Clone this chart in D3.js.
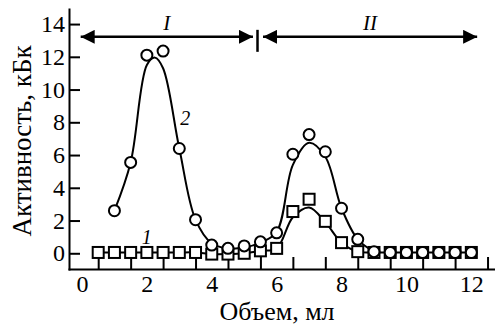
<!DOCTYPE html>
<html lang="en">
<head>
<meta charset="UTF-8">
<title>Активность</title>
<script src="https://cdn.jsdelivr.net/npm/d3@7"></script>
<style>
    body { margin: 0; padding: 0; background: #fff; }
    svg { display: block; }
    text { font-family: "Liberation Serif", "Times New Roman", serif; fill: #000; }
    .axis path, .axis line { stroke: #000; stroke-width: 2px; }
    .mark { font-style: italic; font-size: 20px; }
</style>
</head>
<body>
<div id="chart"></div>
<script>
// --- data ---
// curve 1 (squares)
const vol1 = [0.5, 1, 1.5, 2, 2.5, 3, 3.5, 4, 4.5, 5, 5.5, 6, 6.5, 7, 7.5, 8, 8.5, 9, 9.5, 10, 10.5, 11, 11.5, 12];
const act1 = [0.05, 0.05, 0.05, 0.05, 0.05, 0.05, 0.05, -0.05, -0.05, 0, 0.15, 0.3, 2.55, 3.3, 1.95, 0.65, 0.1, 0.05, 0.05, 0.05, 0.05, 0.05, 0.05, 0.05];
// smooth line drawn for curve 1
const fit1 = [0.05, 0.05, 0.05, 0.05, 0.05, 0.05, 0.05, -0.05, -0.05, 0, 0.15, 0.3, 2.2, 2.8, 1.9, 0.65, 0.1, 0.05, 0.05, 0.05, 0.05, 0.05, 0.05, 0.05];

// curve 2 (circles)
const vol2 = [1, 1.5, 2, 2.5, 3, 3.5, 4, 4.5, 5, 5.5, 6, 6.5, 7, 7.5, 8, 8.5, 9, 9.5, 10, 10.5, 11, 11.5, 12];
const act2 = [2.6, 5.55, 12.1, 12.35, 6.4, 2.05, 0.5, 0.3, 0.45, 0.7, 1.25, 6.05, 7.25, 6.2, 2.75, 0.85, 0.1, 0.05, 0.05, 0.05, 0.05, 0.05, 0.05];
// smooth line drawn for curve 2
const fitVol2 = [1, 1.5, 2, 2.25, 2.5, 3, 3.5, 4, 4.5, 5, 5.5, 6, 6.5, 7, 7.5, 8, 8.5, 9];
const fitAct2 = [2.6, 5.55, 11.5, 11.95, 11.3, 6.4, 2.05, 0.6, 0.3, 0.35, 0.65, 1.3, 5.4, 6.75, 5.9, 2.75, 0.85, 0.1];

const xLabels = [0, 2, 4, 6, 8, 10, 12];
const xTicks = [0.5, 1.5, 2.5, 3.5, 4.5, 5.5, 6.5, 7.5, 8.5, 9.5, 10.5, 11.5, 12.5];
const yTicks = [0, 2, 4, 6, 8, 10, 12, 14];

// fractions I and II: [name, start, end] in ml, divider between them
const regions = [["I", -0.04, 5.27], ["II", 5.58, 12.18]];
const divider = 5.41;

const W = 495, H = 325;
const serif = '"Liberation Serif", "Times New Roman", serif';

const svg = d3.select("#chart").append("svg")
    .attr("width", W).attr("height", H);

const x = d3.scaleLinear().domain([-0.4, 12.73]).range([69, 495]);
const y = d3.scaleLinear().domain([-0.96, 14.92]).range([269, 9]);

// axes
svg.append("g").attr("class", "axis")
    .attr("transform", "translate(0,269)")
    .call(d3.axisBottom(x).tickValues(xTicks).tickSizeInner(-12).tickSizeOuter(0).tickFormat(""));

svg.append("g").attr("class", "axis")
    .attr("transform", "translate(0,269)")
    .call(d3.axisBottom(x).tickValues(xLabels).tickSize(0).tickPadding(6))
    .call(g => g.select(".domain").remove());

svg.append("g").attr("class", "axis")
    .attr("transform", "translate(69,0)")
    .call(d3.axisLeft(y).tickValues(yTicks).tickSizeInner(-11).tickSizeOuter(0).tickPadding(4));

svg.selectAll(".axis text").style("font-family", serif).style("font-size", "24px");
svg.selectAll(".axis .domain").attr("stroke-linecap", "square");

// axis titles
svg.append("text")
    .attr("x", 277).attr("y", 320)
    .attr("text-anchor", "middle")
    .style("font-size", "26px")
    .text("Объем, мл");

svg.append("text")
    .attr("transform", "translate(31,141) rotate(-90)")
    .attr("text-anchor", "middle")
    .style("font-size", "27px")
    .text("Активность, кБк");

// fitted lines
const line = d3.line().curve(d3.curveCatmullRom.alpha(0.5));

svg.append("path")
    .attr("d", line(vol1.map((v, i) => [x(v), y(fit1[i])])))
    .attr("fill", "none").attr("stroke", "#000").attr("stroke-width", 2);

svg.append("path")
    .attr("d", line(fitVol2.map((v, i) => [x(v), y(fitAct2[i])])))
    .attr("fill", "none").attr("stroke", "#000").attr("stroke-width", 2);

// markers: squares under circles
const sq = 11;
svg.append("g").selectAll("rect")
    .data(vol1.map((v, i) => [v, act1[i]]))
    .join("rect")
    .attr("x", d => x(d[0]) - sq / 2)
    .attr("y", d => y(d[1]) - sq / 2)
    .attr("width", sq).attr("height", sq)
    .attr("fill", "#fff").attr("stroke", "#000").attr("stroke-width", 2);

svg.append("g").selectAll("circle")
    .data(vol2.map((v, i) => [v, act2[i]]))
    .join("circle")
    .attr("cx", d => x(d[0]))
    .attr("cy", d => y(d[1]))
    .attr("r", 5.5)
    .attr("fill", "#fff").attr("stroke", "#000").attr("stroke-width", 2);

// curve labels
svg.append("text").attr("class", "mark")
    .attr("x", x(3.18)).attr("y", y(7.83)).attr("text-anchor", "middle").text("2");
svg.append("text").attr("class", "mark")
    .attr("x", x(2.0)).attr("y", y(0.57)).attr("text-anchor", "middle").text("1");

// fraction arrows
const defs = svg.append("defs");
defs.append("marker")
    .attr("id", "head")
    .attr("viewBox", "0 0 14 14")
    .attr("refX", 14).attr("refY", 7)
    .attr("markerWidth", 14).attr("markerHeight", 14)
    .attr("markerUnits", "userSpaceOnUse")
    .attr("orient", "auto-start-reverse")
    .append("path")
    .attr("d", "M0,0 L14,7 L0,14 Z")
    .attr("fill", "#000");

const arrowY = y(13.22);
regions.forEach(r => {
    svg.append("line")
        .attr("x1", x(r[1])).attr("x2", x(r[2]))
        .attr("y1", arrowY).attr("y2", arrowY)
        .attr("stroke", "#000").attr("stroke-width", 2.5)
        .attr("marker-start", "url(#head)")
        .attr("marker-end", "url(#head)");
    svg.append("text").attr("class", "mark")
        .attr("x", x((r[1] + r[2]) / 2))
        .attr("y", 30)
        .attr("text-anchor", "middle")
        .style("font-size", "21px")
        .text(r[0]);
});

svg.append("line")
    .attr("x1", x(divider)).attr("x2", x(divider))
    .attr("y1", arrowY - 7).attr("y2", arrowY + 15)
    .attr("stroke", "#000").attr("stroke-width", 2.5);
</script>
</body>
</html>
